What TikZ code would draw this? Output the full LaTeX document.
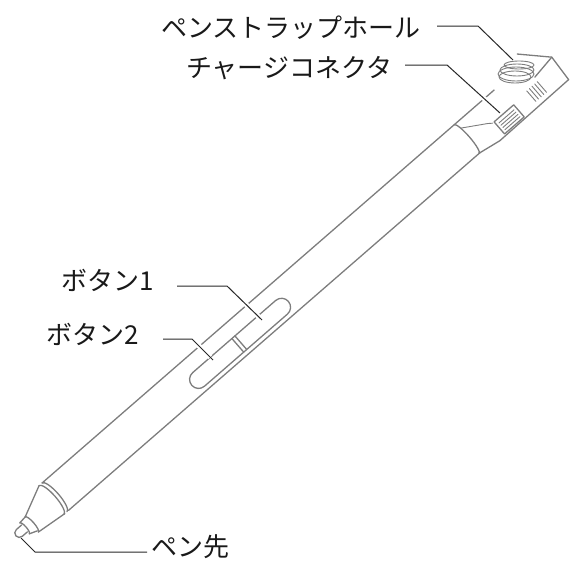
\documentclass[tikz,border=0pt]{standalone}
\usepackage{fontspec}
\newfontfamily\cjk{Noto Sans CJK JP}
\definecolor{pengray}{RGB}{125,125,125}
\definecolor{leadcol}{RGB}{40,40,40}
\definecolor{labcol}{RGB}{25,25,25}
\begin{document}
\begin{tikzpicture}[x=1pt,y=-1pt,
  penline/.style={draw=pengray, line width=1.3pt, line cap=round, line join=round},
  thinpen/.style={draw=pengray, line width=0.9pt, line cap=round, line join=round},
  leader/.style={draw=leadcol, line width=1pt,
    preaction={draw=white, line width=5pt, shorten >=4pt}},
  lab/.style={font=\cjk\fontsize{26}{30}\selectfont, inner sep=0pt, anchor=west, text=labcol}]
\useasboundingbox (0,0) rectangle (570,562);

% ---------------- pen (local frame along the pen axis) ----------------
\begin{scope}[shift={(267.4,312.3)}, rotate=41]
  % body edges
  \draw[penline] (-282,-19) -- (317,-19);
  \draw[penline] (-280,19) -- (265,19);
  % ring at the tail end of the barrel
  \draw[penline] (264,-19) arc[start angle=-90,end angle=90,x radius=3.5,y radius=19];
  % band near the tip
  \draw[penline] (-282,-19) arc[start angle=-90,end angle=90,x radius=5,y radius=19];
  \draw[penline] (-286,-19) arc[start angle=-90,end angle=90,x radius=5,y radius=19];
  % cone
  \draw[penline] (-286,-19) -- (-317,-4.5);
  \draw[penline] (-285,19) -- (-317,15.6);
  \draw[penline] (-317,-4.5) arc[start angle=-90,end angle=90,x radius=2.5,y radius=10.05];
  % collar
  \draw[penline] (-317,-4.5) -- (-325,-3.5);
  \draw[penline] (-317,14) -- (-325,11);
  \draw[penline] (-325,-3.5) arc[start angle=-90,end angle=90,x radius=2,y radius=7.25];
  % nib
  \draw[penline] (-325,-0.75) -- (-332,-0.75)
     arc[start angle=-90,end angle=-270,radius=4.5] -- (-325,8.25);
  % button slot
  \draw[penline] (-96,-3.5) -- (14,-3.5) arc[start angle=-90,end angle=90,radius=9]
     -- (-96,14.5) arc[start angle=90,end angle=270,radius=9] -- cycle;
  \draw[penline] (-44,-3.5) -- (-44,14.5);
  \draw[penline] (-40,-3.5) -- (-40,14.5);
  % tail housing
  \draw[penline] (265,19) -- (288,23) -- (380,22);
  \draw[thinpen] (267,-12) -- (290,2) -- (294,5);
  % charge connector
  \draw[penline] (296,5) rectangle (322,21);
  \foreach \w in {9,12,15,18} \draw[thinpen] (299,\w) -- (319,\w);
  % end cap box
  \draw[penline] (358,-31) -- (382,-6) -- (380,22);
  \draw[penline] (382,-6) -- (356,-2);
  \foreach \u in {341,344.5,348,351.5,355} \draw[thinpen] (\u,3) -- (\u,17);
\end{scope}

% strap hole rings
\draw[thinpen] (519,65) ellipse[x radius=15, y radius=4];
\draw[thinpen] (517,70) ellipse[x radius=17, y radius=6];
\draw[thinpen] (516,74) ellipse[x radius=18, y radius=7];
\draw[thinpen] (515,77) ellipse[x radius=16, y radius=6];

% ---------------- labels ----------------
\node[lab] (t1) at (161,28) {ペンストラップホール};
\node[lab] (t2) at (186,68) {チャージコネクタ};
\node[lab] (t3) at (61,280) {ボタン1};
\node[lab] (t4) at (46,334) {ボタン2};
\node[lab] (t5) at (151,547) {ペン先};

% ---------------- leaders ----------------
\coordinate (s1) at (437,26); \coordinate (k1) at (478,26); \coordinate (p1) at (513,60);
\coordinate (s2) at (405,65); \coordinate (k2) at (447,65); \coordinate (p2) at (500,113);
\coordinate (s3) at (177,286); \coordinate (k3) at (227,286); \coordinate (p3) at (262,320);
\coordinate (s4) at (163,339); \coordinate (k4) at (192,339); \coordinate (p4) at (213,360);
\coordinate (s5) at (147,552); \coordinate (k5) at (35,552); \coordinate (p5) at (21,538);
\draw[leader] (s1) -- (k1) -- (p1);
\draw[leader] (s2) -- (k2) -- (p2);
\draw[leader] (s3) -- (k3) -- (p3);
\draw[leader] (s4) -- (k4) -- (p4);
\draw[leader] (s5) -- (k5) -- (p5);
\end{tikzpicture}
\end{document}
